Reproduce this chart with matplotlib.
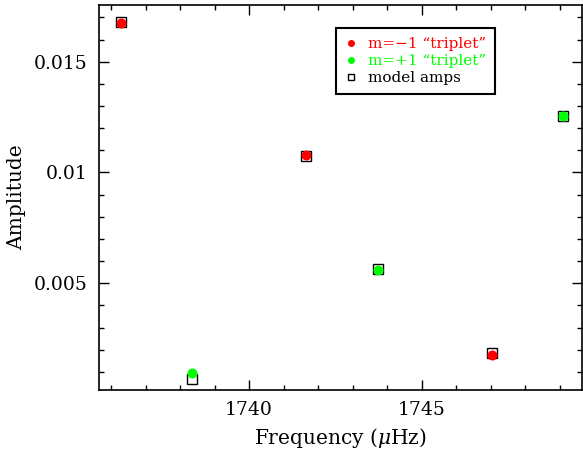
import matplotlib.pyplot as plt
from matplotlib.ticker import MultipleLocator, FuncFormatter

plt.rcParams['font.family'] = ['DejaVu Serif']
plt.rcParams['mathtext.fontset'] = 'dejavuserif'

# m=-1 components
freq_m1 = [1736.28, 1741.66, 1747.03]
amp_m1 = [0.01676, 0.01078, 0.00177]

# m=+1 components
freq_p1 = [1738.35, 1743.72, 1749.10]
amp_p1 = [0.00097, 0.00558, 0.01253]

# model amplitudes
freq_mod = [1736.28, 1738.35, 1741.66, 1743.72, 1747.03, 1749.10]
amp_mod = [0.01678, 0.00068, 0.01076, 0.00565, 0.00187, 0.01255]

fig = plt.figure(figsize=(5.83, 4.5), dpi=100)
ax = fig.add_axes([99/583, 60/450, 483/583, 385/450])

ax.plot(freq_mod, amp_mod, 's', ms=6.8, mfc='white', mec='black', mew=1.0,
        ls='none', label='model amps', zorder=2)
ax.plot(freq_m1, amp_m1, 'o', ms=7.2, color='#ff0000', mec='none',
        ls='none', label='m=\u22121 \u201ctriplet\u201d', zorder=3)
ax.plot(freq_p1, amp_p1, 'o', ms=7.2, color='#00ff00', mec='none',
        ls='none', label='m=+1 \u201ctriplet\u201d', zorder=3)

ax.set_xlim(1735.65, 1749.64)
ax.set_ylim(0.00018, 0.01756)

ax.xaxis.set_major_locator(MultipleLocator(5))
ax.xaxis.set_minor_locator(MultipleLocator(1))
ax.yaxis.set_major_locator(MultipleLocator(0.005))
ax.yaxis.set_minor_locator(MultipleLocator(0.001))
ax.yaxis.set_major_formatter(FuncFormatter(lambda v, p: '%g' % round(v, 4)))

ax.tick_params(which='both', direction='in', top=True, right=True, width=1.0,
               labelsize=13.5, pad=8)
ax.tick_params(which='major', length=7)
ax.tick_params(which='minor', length=3.5)
for s in ax.spines.values():
    s.set_linewidth(1.2)

ax.set_xlabel('Frequency ($\\mu$Hz)', fontsize=14.5, labelpad=5)
ax.set_ylabel('Amplitude', fontsize=14.5, labelpad=6)

handles, labels = ax.get_legend_handles_labels()
order = [1, 2, 0]
leg = ax.legend([handles[i] for i in order], [labels[i] for i in order],
                loc='upper left', bbox_to_anchor=(0.474, 0.96),
                fontsize=11, frameon=True, fancybox=False, framealpha=1,
                edgecolor='black', markerscale=0.7, handlelength=0.8,
                handletextpad=0.7, borderpad=0.6, labelspacing=0.2,
                labelcolor=['#ff0000', '#00ff00', 'black'])
leg.get_frame().set_linewidth(1.5)

fig.savefig('out.png', dpi=100)
